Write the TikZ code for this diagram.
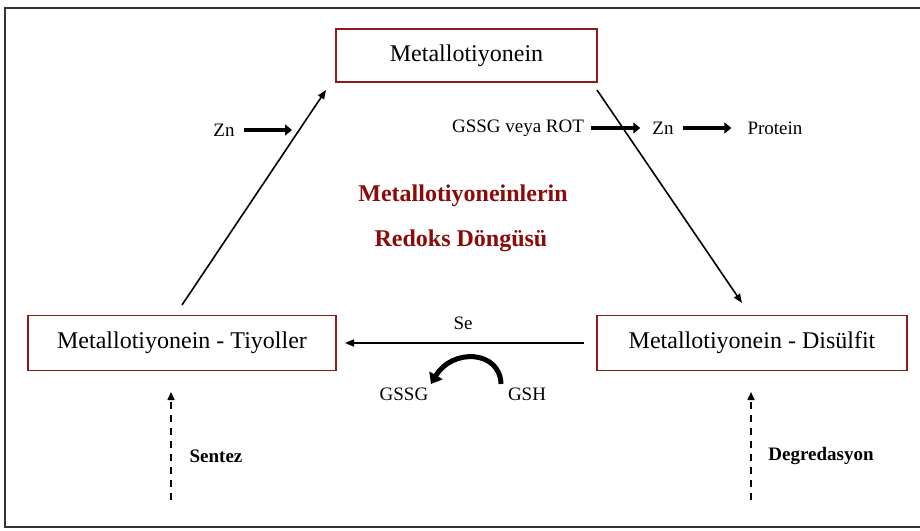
\documentclass[tikz,border=0pt]{standalone}
\usepackage{fontspec}
\setmainfont{Liberation Serif}
\usetikzlibrary{arrows.meta}
\definecolor{boxred}{HTML}{8B1A1A}
\definecolor{titlered}{HTML}{8B0A0A}
\begin{document}
\begin{tikzpicture}[x=1pt,y=-1pt,
  mtbox/.style={draw=boxred,line width=1.4pt,minimum height=53pt,inner sep=0pt,font=\fontsize{24}{28}\selectfont},
  small/.style={font=\fontsize{19}{22}\selectfont,inner sep=0pt},
  smallbold/.style={font=\fontsize{19}{22}\selectfont\bfseries,inner sep=0pt},
  titletext/.style={font=\fontsize{24}{28}\selectfont\bfseries,text=titlered,inner sep=0pt},
  thin/.style={line width=1.6pt,-{Triangle[length=9pt,width=7pt]}},
  thick/.style={line width=4.5pt,-{Triangle[length=7pt,width=11pt]}},
  dashedarrow/.style={line width=1.6pt,dash pattern=on 7pt off 6pt,-{Triangle[length=8pt,width=7pt]}}
]
\useasboundingbox (0,0) rectangle (920,530);
\begin{scope}
\clip (0,0) rectangle (920,530);
\draw[line width=2pt,draw=black!80] (5,8) rectangle (935,527);
\end{scope}

% boxes
\node[mtbox,minimum width=261pt] (top) at (466.5,55.5) {Metallotiyonein};
\node[mtbox,minimum width=308pt,minimum height=55pt] (left) at (182,343) {Metallotiyonein - Tiyoller};
\node[mtbox,minimum width=310pt,minimum height=55pt] (right) at (752,343) {Metallotiyonein - Disülfit};

% main cycle arrows
\coordinate (l1) at (182,305);
\coordinate (l2) at (326,90);
\draw[thin] (l1) -- (l2);
\coordinate (r1) at (597,90);
\coordinate (r2) at (742,303);
\draw[thin] (r1) -- (r2);
\coordinate (h1) at (584,343);
\coordinate (h2) at (345,343);
\draw[thin] (h1) -- (h2);
\node[small] (se) at (463,323) {Se};

% Zn input
\node[small] (zn1) at (224,130) {Zn};
\coordinate (zn1e) at (292,130);
\draw[thick] (zn1.east) ++(9,0) -- (zn1e);

% GSSG veya ROT -> Zn -> Protein
\node[small] (gssgrot) at (518,128) {GSSG veya ROT};
\node[small] (zn2) at (663,128) {Zn};
\node[small] (prot) at (775,128) {Protein};
\draw[thick] ([xshift=7pt]gssgrot.east) -- ([xshift=-12pt]zn2.west);
\draw[thick] ([xshift=9pt]zn2.east) -- ([xshift=-16pt]prot.west);

% title
\node[titletext] (t1) at (463,196) {Metallotiyoneinlerin};
\node[titletext] (t2) at (461,241) {Redoks Döngüsü};

% GSH -> GSSG curved
\node[small] (gssg) at (404,394) {GSSG};
\node[small] (gsh) at (527,394) {GSH};
\coordinate (c1) at (501,384);
\coordinate (c2) at (431,384);
\draw[line width=5pt,-{Triangle[length=10pt,width=15pt]}] (c1) .. controls (500,350) and (452,348) .. (c2);

% dashed arrows
\coordinate (sb) at (171,500);
\coordinate (st) at (171,392);
\draw[dashedarrow] (sb) -- (st);
\node[smallbold] (sentez) at (216,456) {Sentez};
\coordinate (db) at (751,500);
\coordinate (dt) at (751,392);
\draw[dashedarrow] (db) -- (dt);
\node[smallbold] (degr) at (821,456) {Degredasyon};
\end{tikzpicture}
\end{document}
